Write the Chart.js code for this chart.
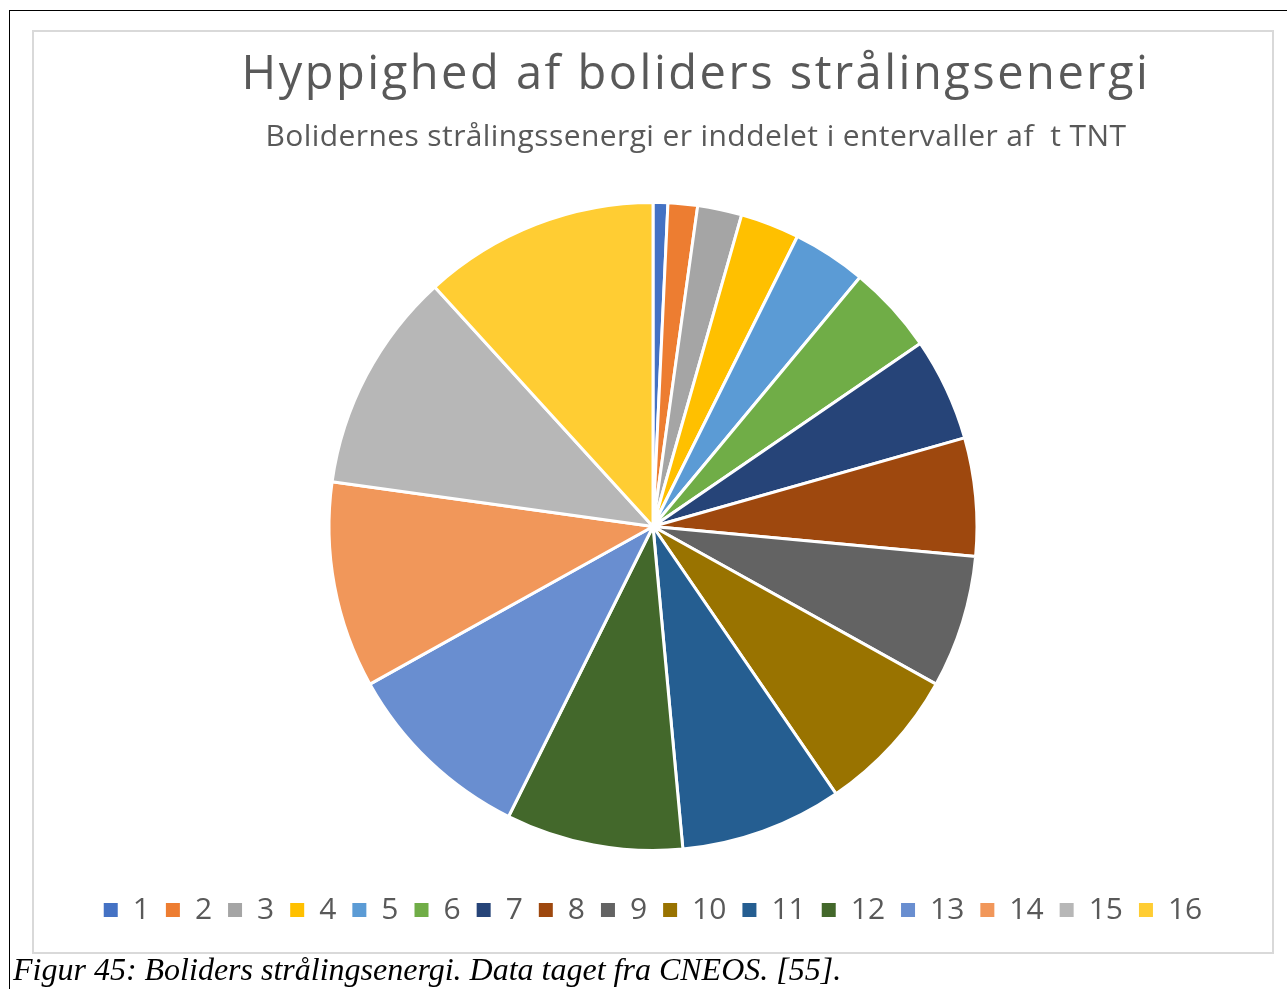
<!DOCTYPE html>
<html>
<head>
<meta charset="utf-8">
<script src="https://cdn.jsdelivr.net/npm/chart.js@4/dist/chart.umd.min.js"></script>
<style>
  html, body { margin: 0; padding: 0; background: #fff; }
  body { width: 1287px; height: 989px; position: relative; overflow: hidden; }
  .frame {
    position: absolute; left: 9px; top: 10px; width: 1300px; height: 1000px;
    border-left: 1px solid #000; border-top: 1px solid #000;
  }
  .chartbox {
    position: absolute; left: 32px; top: 30px; width: 1238px; height: 920px;
    border: 2px solid #d9d9d9;
  }
  .chartbox canvas { position: absolute; left: 0; top: 0; }
  .title, .subtitle {
    position: absolute; left: 0; width: 1392px; text-align: center;
    font-family: "Open Sans", sans-serif; color: #595959; white-space: pre; line-height: 1;
  }
  .title { top: 48px; font-size: 47px; letter-spacing: 2.5px; }
  .subtitle { top: 120px; font-size: 30px; letter-spacing: 0.4px; }
  .caption {
    position: absolute; left: 13px; top: 953px;
    font-family: "Liberation Serif", serif; font-style: italic; font-size: 32px;
    color: #000; white-space: pre; line-height: 1;
  }
</style>
</head>
<body>
<div class="frame"></div>
<div class="chartbox"><canvas id="pie" width="1238" height="920"></canvas></div>
<div class="title">Hyppighed af boliders strålingsenergi</div>
<div class="subtitle">Bolidernes strålingssenergi er inddelet i entervaller af  t TNT</div>
<div class="caption">Figur 45: Boliders strålingsenergi. Data taget fra CNEOS. [55].</div>

<script>
// energy intervals and number of bolides in each
const intervals = ['1', '2', '3', '4', '5', '6', '7', '8', '9', '10', '11', '12', '13', '14', '15', '16'];
const counts = [1, 2, 3, 4, 5, 6, 7, 8, 9, 10, 11, 12, 13, 14, 15, 16];

// office palette
const sliceColors = [
    '#4472C4', '#ED7D31', '#A5A5A5', '#FFC000',
    '#5B9BD5', '#70AD47', '#264478', '#9E480E',
    '#636363', '#997300', '#255E91', '#43682B',
    '#698ED0', '#F1975A', '#B7B7B7', '#FFCD33'
];

const ctx = document.getElementById('pie').getContext('2d');

// legend squares without the white slice border
const pieLabels = Chart.overrides.pie.plugins.legend.labels.generateLabels;

let chart = new Chart(ctx, {
    type: 'pie',
    data: {
        labels: intervals,
        datasets: [
            {
                data: counts,
                backgroundColor: sliceColors,
                borderColor: '#ffffff',
                borderWidth: 3
            }
        ]
    },
    options: {
        responsive: false,
        animation: false,
        radius: 324,
        layout: {
            padding: { top: 142, bottom: 17, left: 0, right: 0 }
        },
        plugins: {
            legend: {
                position: 'bottom',
                labels: {
                    boxWidth: 14,
                    boxHeight: 14,
                    padding: 16,
                    color: '#595959',
                    font: { family: 'Open Sans', size: 30 },
                    generateLabels: (c) => pieLabels(c).map((item) => {
                        item.lineWidth = 0;
                        item.strokeStyle = item.fillStyle;
                        return item;
                    })
                }
            },
            tooltip: { enabled: false }
        }
    }
});
</script>
</body>
</html>
